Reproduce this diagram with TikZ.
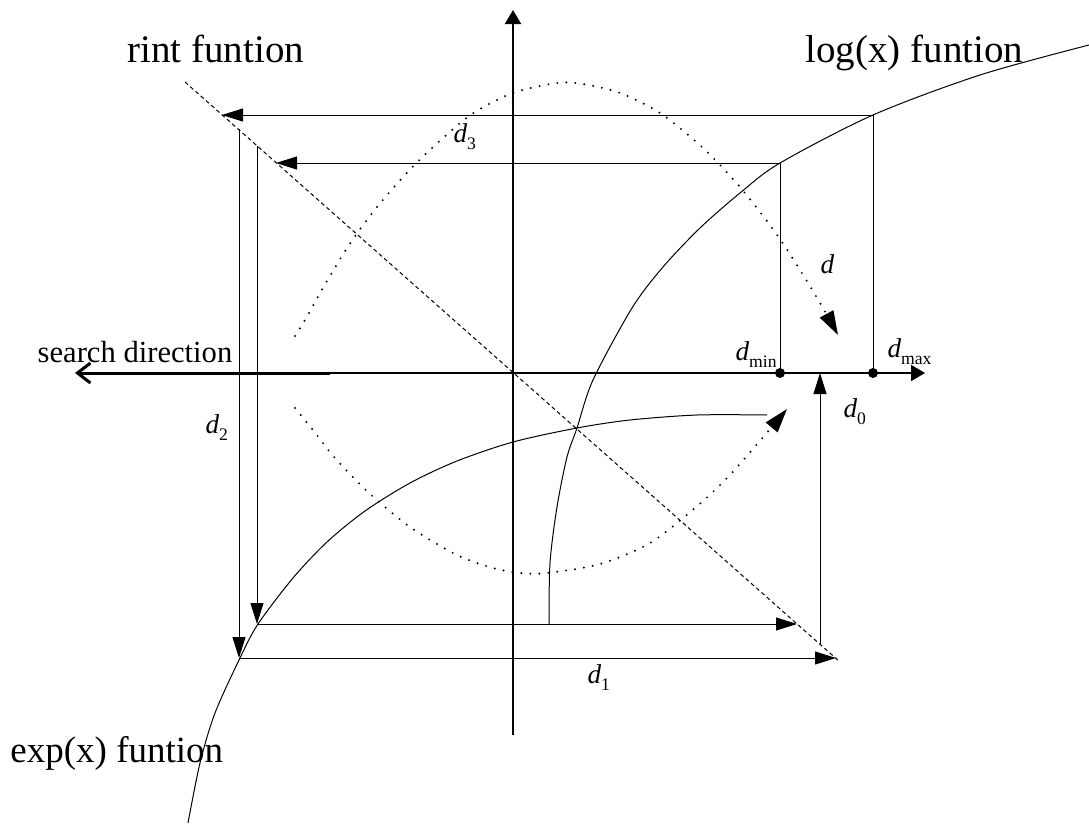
\documentclass[tikz,border=0pt]{standalone}
\usepackage{fontspec}
\setmainfont{Liberation Serif}
\usetikzlibrary{arrows.meta}
\newcommand{\dlab}[1]{{\fontsize{13.6}{15}\selectfont\textit{d}\raisebox{-3.5pt}{\fontsize{8.8}{10}\selectfont #1}}}

\begin{document}
\begin{tikzpicture}[x=0.5pt,y=-0.5pt,line width=0.5pt,
  tip/.style={-{Triangle[length=10.5pt,width=6.5pt]}},
  axis/.style={line width=1pt,-{Triangle[length=7pt,width=8pt]}},
  dots/.style={line width=1.1pt,line cap=round,dash pattern=on 0pt off 4.5pt,-{Triangle[length=12pt,width=7.5pt]}},
  lbl/.style={inner sep=0,anchor=base west},
  big/.style={inner sep=0,anchor=base west,font=\fontsize{19.5}{22}\selectfont}]
\useasboundingbox (0,0) rectangle (1089,825);
% axes and search direction
\coordinate (O) at (513,373); \coordinate (S) at (330,373);
\draw[axis] (513,735)--(513,10); \draw[axis] (S)--(925,373);
\draw[line width=1.5pt,-{Straight Barb[length=6.5pt,width=10pt]}] (S)--(75,373);
% rint function
\draw[dash pattern=on 2pt off 1.5pt] (185,82)--(840,662);
% log(x) and exp(x)
\draw plot[smooth,tension=0.5] coordinates {(549,625) (550,563) (557,507) (567,457) (577,428) (593,380) (632,308) (663,267) (700,228) (740,193) (780,163) (873,115) (980,75) (1089,45)};
\draw plot[smooth,tension=0.5] coordinates {(188,823) (200,763) (215,713) (240,658) (258,624) (293,578) (327,542) (365,511) (410,483) (457,461) (513,442) (577,428) (630,420) (697,415) (767,415)};
% search loop
\draw[dots] plot[smooth] coordinates {(295,336) (305,320) (323,288) (347,248) (373,212) (403,177) (433,147) (472,114) (513,93) (557,83) (583,84) (620,93) (660,113) (703,148) (740,187) (775,232) (800,270) (823,308) (838,335)};
\draw[dots] plot[smooth] coordinates {(295,408) (313,430) (335,458) (368,492) (410,527) (457,555) (493,568) (520,573) (547,573) (600,564) (650,543) (695,508) (728,477) (765,435) (787,409)};
% mappings
\coordinate (Lmax) at (873,115); \coordinate (Lmin) at (780,163);
\coordinate (Dmax) at (873,373); \coordinate (Dmin) at (780,373);
\coordinate (R1) at (222,115); \coordinate (R2) at (276,163);
\coordinate (V1) at (239,129); \coordinate (V2) at (257,146);
\coordinate (E1) at (239,658); \coordinate (E2) at (257,624);
\coordinate (Q1) at (836,658); \coordinate (Q2) at (797,624);
\coordinate (Z) at (820,644); \coordinate (Z0) at (820,373);
\draw (Dmax)--(Lmax); \draw (Dmin)--(Lmin);
\draw[tip] (Lmax)--(R1); \draw[tip] (Lmin)--(R2);
\draw[tip] (V1)--(E1); \draw[tip] (V2)--(E2);
\draw[tip] (E1)--(Q1); \draw[tip] (E2)--(Q2);
\draw[tip] (Z)--(Z0);
\fill (Dmax) circle (5); \fill (Dmin) circle (5);
% labels
\node[big] (rint) at (127,62) {rint funtion};
\node[big] (log) at (805,62) {log(x) funtion};
\node[big,font=\fontsize{18.5}{22}\selectfont] (exp) at (10,762) {exp(x) funtion};
\node[inner sep=0,anchor=base,font=\fontsize{15.3}{18}\selectfont] (dir) at (135,362) {search direction};
\node[lbl] (d3) at (453,142) {\dlab{3}};
\node[lbl] (d) at (820,273) {\dlab{}};
\node[lbl] (dmin) at (735,360) {\dlab{min}};
\node[lbl] (dmax) at (887,357) {\dlab{max}};
\node[lbl] (d0) at (843,417) {\dlab{0}};
\node[lbl] (d2) at (205,433) {\dlab{2}};
\node[lbl] (d1) at (587,683) {\dlab{1}};
\end{tikzpicture}
\end{document}
